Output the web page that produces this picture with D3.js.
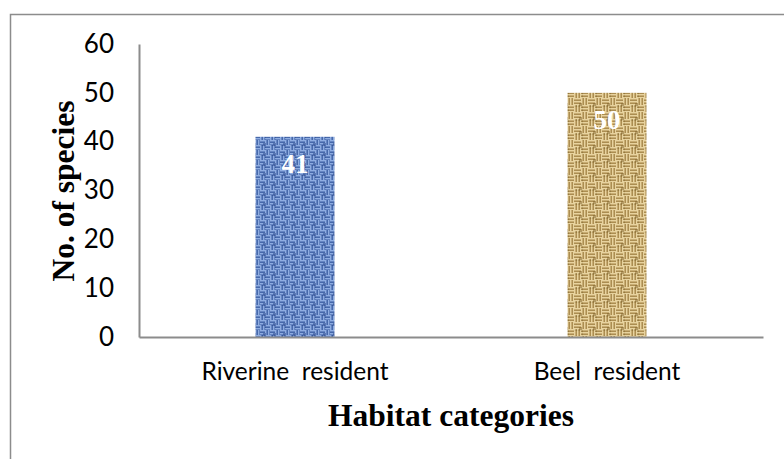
<!DOCTYPE html>
<html>
<head>
<meta charset="utf-8">
<script src="https://cdn.jsdelivr.net/npm/d3@7"></script>
<style>
  body { margin: 0; background: #fff; }
  svg { display: block; }
</style>
</head>
<body>
<svg id="root"></svg>
<script>
(function () {
  // data
  let categories = ["Riverine  resident", "Beel  resident"];
  let species = [41, 50];
  let yTicks = [0, 10, 20, 30, 40, 50, 60];
  let textures = ["denim", "burlap"];

  let width = 784;
  let height = 459;
  let margin = { left: 139, right: 21, top: 44, bottom: 122 };

  let svg = d3.select("#root")
    .attr("width", width)
    .attr("height", height);

  let defs = svg.append("defs");

  // woven textures, made from small thread blocks
  function weave(id, base, light, dark, cell) {
    let size = cell * 2;
    let p = defs.append("pattern")
      .attr("id", id)
      .attr("patternUnits", "userSpaceOnUse")
      .attr("width", size)
      .attr("height", size);
    p.append("rect").attr("width", size).attr("height", size).attr("fill", base);
    [[0, 0, "h"], [cell, 0, "v"], [0, cell, "v"], [cell, cell, "h"]].forEach(b => {
      let [bx, by, dir] = b;
      for (let i = 0; i < cell; i += 3) {
        if (dir === "h") {
          p.append("rect").attr("x", bx).attr("y", by + i).attr("width", cell).attr("height", 1.5)
            .attr("fill", light).attr("opacity", 0.7);
          p.append("rect").attr("x", bx).attr("y", by + i + 1.5).attr("width", cell).attr("height", 1.5)
            .attr("fill", dark).attr("opacity", 0.45);
        } else {
          p.append("rect").attr("x", bx + i).attr("y", by).attr("width", 1.5).attr("height", cell)
            .attr("fill", light).attr("opacity", 0.7);
          p.append("rect").attr("x", bx + i + 1.5).attr("y", by).attr("width", 1.5).attr("height", cell)
            .attr("fill", dark).attr("opacity", 0.45);
        }
      }
    });
    // a darker knot in one corner to break the regularity a bit
    p.append("rect").attr("x", cell - 2).attr("y", cell - 2).attr("width", 3).attr("height", 3)
      .attr("fill", dark).attr("opacity", 0.5);
  }
  weave("denim", "#5f84c4", "#a4c0ee", "#27468a", 5);
  weave("burlap", "#d0b072", "#f3e3b2", "#7f6129", 7);

  // outer frame (only top and left are visible in the picture)
  svg.append("rect")
    .attr("x", 10.5).attr("y", 14.5)
    .attr("width", 800).attr("height", 500)
    .attr("fill", "none")
    .attr("stroke", "#8c8c8c")
    .attr("stroke-width", 1.5);

  let x = d3.scaleBand()
    .domain(categories)
    .range([margin.left, width - margin.right])
    .paddingInner(0.747)
    .paddingOuter(0.3735);

  let y = d3.scaleLinear()
    .domain([0, 60])
    .range([height - margin.bottom, margin.top]);

  // bars
  svg.selectAll(".bar")
    .data(categories)
    .enter().append("rect")
    .attr("class", "bar")
    .attr("x", d => x(d))
    .attr("width", x.bandwidth())
    .attr("y", (d, i) => y(species[i]))
    .attr("height", (d, i) => y(0) - y(species[i]))
    .attr("fill", (d, i) => `url(#${textures[i]})`);

  // value labels
  svg.selectAll(".value")
    .data(categories)
    .enter().append("text")
    .attr("class", "value")
    .attr("x", d => x(d) + x.bandwidth() / 2)
    .attr("y", (d, i) => y(species[i]) + 36)
    .attr("text-anchor", "middle")
    .attr("fill", "#fff")
    .style("font-family", "'Liberation Serif', 'Times New Roman', serif")
    .style("font-weight", "bold")
    .style("font-size", "27px")
    .text((d, i) => species[i]);

  // y axis
  let yAxis = svg.append("g")
    .attr("transform", `translate(${margin.left},0)`)
    .call(d3.axisLeft(y).tickValues(yTicks).tickSize(0).tickPadding(25));
  yAxis.select(".domain").attr("stroke", "#8c8c8c").attr("stroke-width", 2);
  yAxis.selectAll("text")
    .attr("fill", "#000")
    .style("font-family", "Lato, 'Open Sans', sans-serif")
    .style("font-size", "26px");

  // x axis
  let xAxis = svg.append("g")
    .attr("transform", `translate(0,${y(0)})`)
    .call(d3.axisBottom(x).tickSize(0).tickPadding(26));
  xAxis.select(".domain").attr("stroke", "#8c8c8c").attr("stroke-width", 2);
  xAxis.selectAll("text")
    .attr("fill", "#000")
    .style("font-family", "Lato, 'Open Sans', sans-serif")
    .style("font-size", "24.5px")
    .style("white-space", "pre");

  // axis titles
  svg.append("text")
    .attr("x", 451)
    .attr("y", 426)
    .attr("text-anchor", "middle")
    .style("font-family", "'Liberation Serif', 'Times New Roman', serif")
    .style("font-weight", "bold")
    .style("font-size", "31.5px")
    .text("Habitat categories");

  svg.append("text")
    .attr("transform", "translate(74,191) rotate(-90)")
    .attr("text-anchor", "middle")
    .style("font-family", "'Liberation Serif', 'Times New Roman', serif")
    .style("font-weight", "bold")
    .style("font-size", "31.5px")
    .text("No. of species");
})();
</script>
</body>
</html>
